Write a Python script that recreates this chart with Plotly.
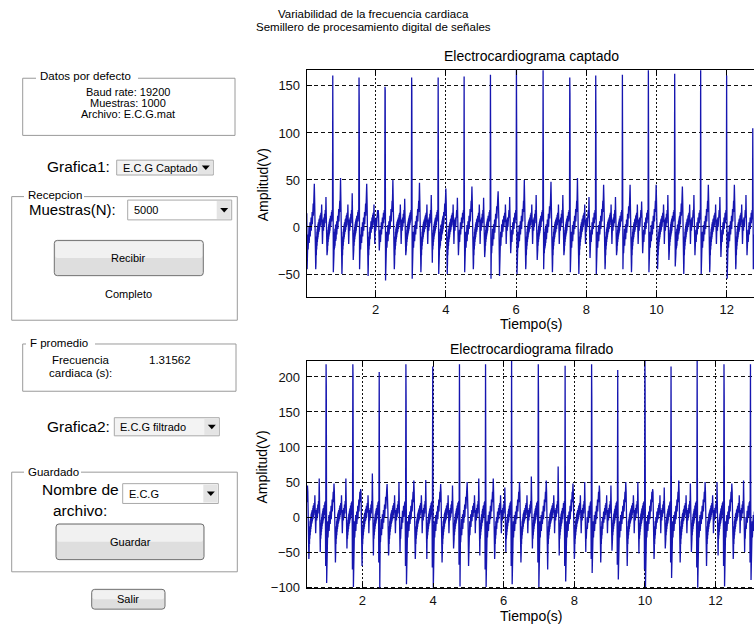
import plotly.graph_objects as go

W, H = 754, 631

# ---------------- data ----------------
# Top: "Electrocardiograma captado" - per-beat values (R-peak times in s, amplitudes in V)
TOP_BEAT_T = [0.03, 0.777, 1.525, 2.265, 3.024, 3.78, 4.52, 5.27, 6.01, 6.77,
              7.53, 8.27, 9.03, 9.77, 10.52, 11.26, 12.0, 12.745]
TOP_R = [14, 161, 159, 149, 159, 159, 160, 162, 170, 170, 159, 161, 162, 170, 163, 170, 161, 105]
TOP_R2 = [14, 90, 130, 145, 145, 95, 40, 70, 115, 40, 142, 108, 40, 82, 120, 40, 40, 40]
TOP_S = [-45, -48, -45, -57, -55, -50, -48, -55, -50, -45, -48, -50, -45, -48, -42, -50, -55, -45]
TOP_T = [46, 52, 46, 50, 47, 41, 43, 38, 50, 48, 52, 45, 45, 45, 43, 45, 45, 45]
TOP_TT = [-45, -50, -52, -45, -48, -50, -45, -52, -45, -48, -50, -45, -48, -45, -50, -48, -45, -45]
TOP_P = [32, 36, 18, 30, 34, 31, 31, 32, 34, 34, 32, 32, 27, 34, 34, 32, 34, 30]
TOP_PT = [-30, -35, -25, -30, -38, -30, -32, -28, -35, -30, -33, -30, -28, -35, -30, -32, -30, -30]

# Bottom: "Electrocardiograma filrado"
BOT_BEAT_T = [0.22, 0.969, 1.727, 2.474, 3.23, 3.99, 4.747, 5.486, 6.224, 6.98,
              7.74, 8.49, 9.23, 10.0, 10.74, 11.48, 12.24, 12.99]
BOT_R = [218, 218, 218, 207, 218, 215, 218, 218, 235, 218, 216, 218, 210, 235, 215, 235, 218, 218]
BOT_R2 = [60, 187, 200, 60, 165, 60, 133, 100, 60, 170, 60, 170, 60, 180, 105, 60, 172, 60]
BOT_Q = [-60, -70, -75, -65, -70, -72, -68, -75, -70, -65, -70, -60, -68, -75, -65, -72, -70, -65]
BOT_S = [-90, -94, -100, -101, -96, -101, -99, -100, -96, -100, -92, -80, -89, -100, -87, -101, -99, -90]
BOT_T = [45, 48, 40, 47, 52, 47, 50, 55, 50, 52, 48, 45, 50, 40, 52, 50, 48, 45]
BOT_TT = [-60, -65, -70, -55, -60, -65, -70, -60, -65, -75, -60, -65, -70, -60, -65, -70, -60, -65]
BOT_P = [55, 55, 62, 50, 53, 45, 55, 42, 58, 72, 50, 45, 50, 42, 48, 50, 52, 45]
BOT_PT = [-50, -45, -55, -50, -60, -45, -55, -50, -45, -55, -50, -48, -52, -45, -50, -55, -50, -48]

# hand-drawn beat shape (offset within a 0.75 s beat, value or per-beat key)
BEAT_SHAPE = [
    (0.000, "R"), (0.006, "R2"), (0.016, "S"), (0.025, -30),
    (0.030, -12), (0.035, -28), (0.040, -8), (0.045, -24), (0.050, -5), (0.055, -22), (0.060, -2),
    (0.065, -20), (0.070, 0), (0.075, -17), (0.080, 2), (0.085, -15), (0.090, 3), (0.095, -13),
    (0.100, 5), (0.105, -10), (0.110, 6), (0.115, -8), (0.120, 8), (0.125, -6), (0.130, 10),
    (0.135, -4), (0.140, 12), (0.145, -2), (0.150, 14), (0.155, 0), (0.160, 16), (0.165, 3),
    (0.170, 19), (0.175, 6), (0.180, 22), (0.185, 9), (0.190, 25), (0.195, 12), (0.200, 28),
    (0.205, 16), (0.210, 30),
    (0.222, "T"), (0.232, 28), (0.245, 5), (0.262, "TT"),
    (0.270, -38), (0.275, -18), (0.280, -30), (0.285, -10), (0.290, -24), (0.295, -5), (0.300, -20),
    (0.305, -2), (0.310, -16), (0.315, 0), (0.320, -13), (0.325, 3), (0.330, -11), (0.335, 5),
    (0.340, -8), (0.345, 6), (0.350, -6), (0.355, 8), (0.360, -5), (0.365, 9), (0.370, -3),
    (0.375, 10), (0.380, -2), (0.385, 12), (0.390, 0), (0.395, 13), (0.400, 2), (0.410, 15),
    (0.420, 5),
    (0.432, 24), (0.445, 8), (0.455, -18), (0.465, -5), (0.475, 8), (0.485, -4), (0.495, 10),
    (0.505, 0), (0.515, 14), (0.525, 4), (0.535, 18), (0.545, 10),
    (0.555, "P"), (0.565, 12), (0.585, "PT"),
    (0.595, -12), (0.600, -24), (0.605, -6), (0.610, -20), (0.615, -3), (0.620, -16), (0.625, 0),
    (0.630, -13), (0.635, 3), (0.640, -10), (0.645, 5), (0.650, -8), (0.655, 7), (0.660, -6),
    (0.665, 9), (0.670, -4), (0.675, 10), (0.680, -2), (0.685, 12), (0.690, 0), (0.695, 13),
    (0.700, 2), (0.705, 15), (0.710, 4), (0.715, 16), (0.720, 6), (0.730, 18),
]
TOP_SHAPE = BEAT_SHAPE + [(0.742, 8)]
BOT_SHAPE = [(-0.012, "Q")] + [(o, v if isinstance(v, str) else round(v * 1.3)) for o, v in BEAT_SHAPE]


def build(beats, params, shape):
    xs, ys = [], []
    for i, t0 in enumerate(beats):
        interval = beats[i + 1] - t0 if i + 1 < len(beats) else 0.75
        k = interval / 0.75
        for off, v in shape:
            xs.append(t0 + off * k)
            ys.append(params[v][i] if isinstance(v, str) else v)
    return xs, ys


tx, ty = build(TOP_BEAT_T, dict(R=TOP_R, R2=TOP_R2, S=TOP_S, T=TOP_T, TT=TOP_TT, P=TOP_P, PT=TOP_PT), TOP_SHAPE)
bx, by = build(BOT_BEAT_T, dict(Q=BOT_Q, R=BOT_R, R2=BOT_R2, S=BOT_S, T=BOT_T, TT=BOT_TT, P=BOT_P, PT=BOT_PT), BOT_SHAPE)

TOP_YTICKS = [-50, 0, 50, 100, 150]
BOT_YTICKS = [-100, -50, 0, 50, 100, 150, 200]
XTICKS = [2, 4, 6, 8, 10, 12]

LINE_COLOR = "#1616b0"
FONT = "Liberation Sans, Arial, sans-serif"

fig = go.Figure()
fig.add_trace(go.Scatter(x=tx, y=ty, mode="lines", line=dict(color=LINE_COLOR, width=1.3),
                         xaxis="x", yaxis="y", showlegend=False, hoverinfo="skip"))
fig.add_trace(go.Scatter(x=bx, y=by, mode="lines", line=dict(color=LINE_COLOR, width=1.3),
                         xaxis="x2", yaxis="y2", showlegend=False, hoverinfo="skip"))


def X(px):
    return px / W


def Y(py):
    return 1 - py / H


ax_common = dict(showline=True, linecolor="black", linewidth=1, ticks="inside", ticklen=5,
                 tickcolor="black", showgrid=True, gridcolor="#111", gridwidth=1, zeroline=False,
                 tickfont=dict(family=FONT, size=13, color="#111"))

fig.update_layout(
    width=W, height=H, margin=dict(l=0, r=0, t=0, b=0),
    paper_bgcolor="white", plot_bgcolor="white",
    xaxis=dict(domain=[X(306.7), 1], range=[0.034, 12.78], tickvals=XTICKS, anchor="y",
               mirror="ticks", griddash="2px,2px", **ax_common),
    yaxis=dict(domain=[Y(300), Y(71)], range=[-74.6, 166.6], tickvals=TOP_YTICKS, anchor="x",
               griddash="4px,3px", ticklabelstandoff=3, **ax_common),
    xaxis2=dict(domain=[X(306.7), 1], range=[0.42, 13.09], tickvals=XTICKS, anchor="y2",
                mirror="ticks", griddash="2px,2px", **ax_common),
    yaxis2=dict(domain=[Y(594), Y(364.3)], range=[-101.8, 223], tickvals=BOT_YTICKS, anchor="x2",
                griddash="4px,3px", ticklabelstandoff=3, **ax_common),
)

shapes = []
ann = []


def text(px, py, s, size=11.5, xanchor="center"):
    ann.append(dict(x=X(px), y=Y(py), xref="paper", yref="paper", text=s, showarrow=False,
                    xanchor=xanchor, yanchor="middle", font=dict(family=FONT, size=size, color="black")))


def seg(x0, y0, x1, y1, color="#9a9a9a"):
    shapes.append(dict(type="line", xref="paper", yref="paper", x0=X(x0), x1=X(x1), y0=Y(y0), y1=Y(y1),
                       line=dict(color=color, width=1)))


def rect(x0, y0, x1, y1, line="#a0a0a0", fill=None, width=1):
    d = dict(type="rect", xref="paper", yref="paper", x0=X(x0), x1=X(x1), y0=Y(y1), y1=Y(y0),
             line=dict(color=line, width=width))
    if fill:
        d["fillcolor"] = fill
    if line is None:
        d["line"] = dict(width=0)
    shapes.append(d)


def rounded(x0, y0, x1, y1, r, fill, line):
    rx, ry = r / W, r / H
    a, b, c, d = X(x0), X(x1), Y(y1), Y(y0)
    p = (f"M {a+rx},{c} L {b-rx},{c} Q {b},{c} {b},{c+ry} L {b},{d-ry} Q {b},{d} {b-rx},{d} "
         f"L {a+rx},{d} Q {a},{d} {a},{d-ry} L {a},{c+ry} Q {a},{c} {a+rx},{c} Z")
    shapes.append(dict(type="path", xref="paper", yref="paper", path=p, fillcolor=fill,
                       line=dict(color=line, width=1) if line else dict(width=0)))


def panel(x0, y0, x1, y1, title, tx0, tx1, ty):
    # etched frame with a gap in the top edge for the title
    seg(x0, y0, tx0 - 2, y0)
    seg(tx1 + 2, y0, x1, y0)
    seg(x0, y0, x0, y1)
    seg(x1, y0, x1, y1)
    seg(x0, y1, x1, y1)
    text(tx0, ty, title, size=11.5, xanchor="left")


def dropdown(x0, y0, x1, y1, label, size=11, bg="white"):
    rect(x0, y0, x1, y1, line="#a9a9a9", fill=bg)
    ax0 = x1 - 15
    rect(ax0, y0 + 1, x1 - 1, y1 - 1, line=None, fill="#e4e4e4")
    cx, cy = (ax0 + x1) / 2, (y0 + y1) / 2
    p = f"M {X(cx-4)},{Y(cy-2)} L {X(cx+4)},{Y(cy-2)} L {X(cx)},{Y(cy+2.5)} Z"
    shapes.append(dict(type="path", xref="paper", yref="paper", path=p, fillcolor="black",
                       line=dict(width=0)))
    text(x0 + 4, (y0 + y1) / 2, label, size=size, xanchor="left")


def button(x0, y0, x1, y1, label):
    rounded(x0, y0, x1, y1, 3, "#dedede", "#707070")
    rounded(x0 + 1, y0 + 1, x1 - 1, (y0 + y1) / 2, 2, "#f1f1f1", None)
    text((x0 + x1) / 2, (y0 + y1) / 2, label, size=11)


# header
text(373, 14, "Variabilidad de la frecuencia cardiaca", size=11.5)
text(373, 27.5, "Semillero de procesamiento digital de señales", size=11.5)

# panels on the left
panel(22.7, 79, 235, 136.7, "Datos por defecto", 38, 136, 77)
text(128, 93.3, "Baud rate: 19200", size=11)
text(128, 104.3, "Muestras: 1000", size=11)
text(128, 115, "Archivo: E.C.G.mat", size=11)

text(111.7, 168.5, "Grafica1:", size=15.5, xanchor="right")
dropdown(116.7, 161.7, 213.3, 176.7, "E.C.G Captado", bg="#f3f3f3")

panel(11.7, 198.5, 237.3, 323.3, "Recepcion", 26, 82, 196.5)
text(26.7, 211.5, "Muestras(N):", size=15, xanchor="left")
dropdown(127.7, 202, 231.7, 222, "5000")
button(54.3, 242.7, 203.3, 278.3, "Recibir")
text(128.7, 296.7, "Completo", size=11)

panel(22.7, 347.3, 236, 395, "F promedio", 28, 93, 346.5)
text(80, 363.3, "Frecuencia")
text(80, 376.7, "cardiaca (s):")
text(170, 363.3, "1.31562")

text(111.7, 431, "Grafica2:", size=15.5, xanchor="right")
dropdown(114.3, 421.7, 219.3, 440, "E.C.G filtrado", bg="#f3f3f3")

panel(11.7, 476.7, 237.3, 577.3, "Guardado", 26, 79, 476.5)
text(80, 494.3, "Nombre de", size=15.5)
text(80, 515, "archivo:", size=15.5)
dropdown(122.7, 488.3, 218.3, 508.3, "E.C.G")
button(56, 529, 204, 565, "Guardar")
button(91.7, 595, 165, 615, "Salir")

# plot titles and axis labels
text(531.7, 56.5, "Electrocardiograma captado", size=14)
text(531.7, 327.5, "Tiempo(s)", size=14)
ann.append(dict(x=X(263), y=Y(187), xref="paper", yref="paper", text="Amplitud(V)", showarrow=False,
                textangle=-90, xanchor="center", yanchor="middle", font=dict(family=FONT, size=14, color="black")))
text(531.7, 352, "Electrocardiograma filrado", size=14)
text(531.7, 621.5, "Tiempo(s)", size=14)
ann.append(dict(x=X(262), y=Y(472), xref="paper", yref="paper", text="Amplitud(V)", showarrow=False,
                textangle=-90, xanchor="center", yanchor="middle", font=dict(family=FONT, size=14, color="black")))

fig.update_layout(shapes=shapes, annotations=ann)
fig.write_html("out.html")
